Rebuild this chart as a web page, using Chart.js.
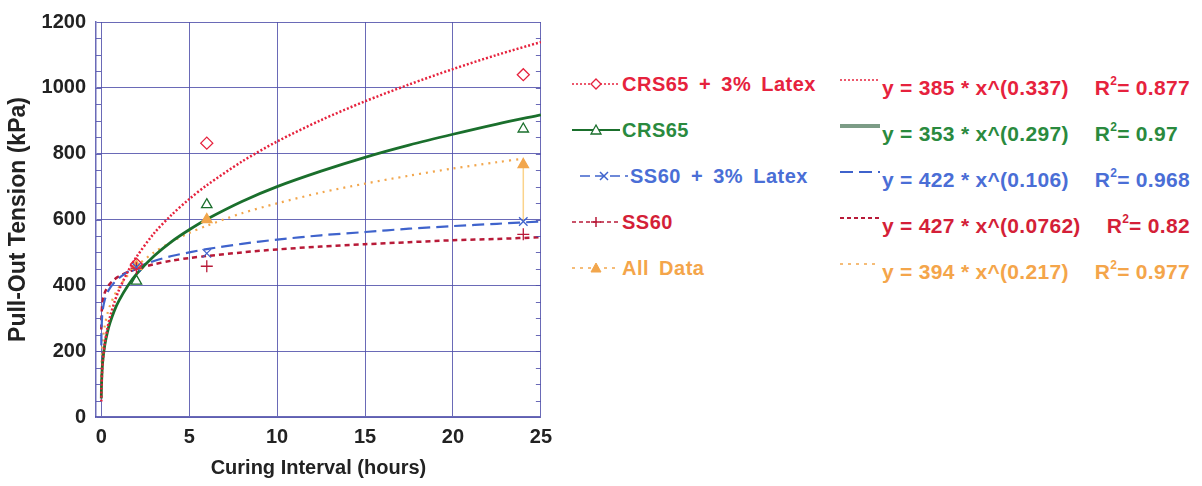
<!DOCTYPE html>
<html><head><meta charset="utf-8">
<script src="https://cdn.jsdelivr.net/npm/chart.js@4.4.1/dist/chart.umd.min.js"></script>
<style>
html,body{margin:0;padding:0;background:#fff;width:1202px;height:486px;overflow:hidden;font-family:"Liberation Sans",Arial,sans-serif;}
#wrap{position:absolute;left:0;top:0;width:560px;height:486px;}
.row{position:absolute;display:flex;align-items:center;height:24px;font-weight:bold;white-space:nowrap;line-height:1;}
.row svg{display:block;flex:none;}
.lab{font-size:20px;word-spacing:4px;letter-spacing:0.5px;}
.eq{font-size:21px;letter-spacing:0.3px;}
.r2{font-size:21px;margin-left:26px;letter-spacing:0.3px;}
.r2 sup{font-size:12px;vertical-align:10px;line-height:0;}
</style></head><body>
<div id="wrap"><canvas id="c" width="560" height="486"></canvas></div>
<div id="legend"></div>
<script>
// ---- data ----
const hours = [2, 6, 24];
const crsLatex = [464, 832, 1040];
const crs = [413, 645, 875];
const ssLatex = [455, 497, 594];
const ss = [452, 458, 555];
const allData = [458, 600, 767];

// fitted curves as drawn in the picture (x in hours, y in kPa)
const fitX = [0.002, 0.01, 0.05, 0.1, 0.2, 0.35, 0.5, 0.75, 1, 1.5, 2, 3, 4, 5, 6, 8, 10, 12.5, 15, 17.5, 20, 22.5, 25];
const fitCrsLatex = [47, 82, 140, 177, 224, 270, 305, 349, 385, 441, 486, 558, 614, 662, 704, 776, 837, 902, 959, 1010, 1057, 1100, 1139];
const fitCrs = [56, 90, 145, 178, 219, 258, 287, 324, 353, 398, 434, 489, 533, 569, 601, 655, 700, 747, 789, 826, 859, 890, 918];
const fitSsLatex = [218, 259, 307, 331, 356, 378, 392, 409, 422, 441, 454, 474, 489, 500, 510, 526, 539, 552, 562, 572, 580, 587, 594];
const fitSs = [266, 301, 340, 358, 378, 394, 405, 418, 427, 440, 450, 464, 475, 483, 489, 500, 509, 518, 525, 531, 537, 541, 546];
const fitAllX = [0.002, 0.01, 0.05, 0.1, 0.2, 0.35, 0.5, 0.75, 1, 1.5, 2, 3, 4, 5, 6, 8, 10, 12.5, 15, 17.5, 20, 22.5, 24];
const fitAll = [102, 145, 206, 239, 278, 314, 339, 370, 394, 430, 458, 500, 532, 559, 581, 619, 649, 682, 709, 733, 755, 774, 785];
const rangeX = [24, 24];
const rangeY = [596, 785];

const xTicks = [0, 5, 10, 15, 20, 25];
const yTicks = [0, 200, 400, 600, 800, 1000, 1200];

const seriesNames = ['CRS65 + 3% Latex', 'CRS65', 'SS60 + 3% Latex', 'SS60', 'All Data'];
const fitEquations = ['y = 385 * x^(0.337)', 'y = 353 * x^(0.297)', 'y = 422 * x^(0.106)', 'y = 427 * x^(0.0762)', 'y = 394 * x^(0.217)'];
const rSquared = ['0.877', '0.97', '0.968', '0.82', '0.977'];

// ---- styles ----
const C_RED = '#e6223d', C_GREEN = '#1a6f2c', C_BLUE = '#3f63cc', C_DRED = '#b81a38', C_ORANGE = '#f2a64c';
const TEXT = ['#e6223d', '#2a8a3e', '#4a6ed6', '#d41f38', '#f4a54a'];
const GRID = 'rgba(80,80,170,0.85)';
const FONT = {family: 'Liberation Sans', size: 20, weight: 'bold'};

const pts = (xs, ys) => xs.map((x, i) => ({x, y: ys[i]}));

const fitDs = (label, xs, ys, color, dash, w) => ({
  label, data: pts(xs, ys), borderColor: color, borderWidth: w, borderDash: dash,
  pointRadius: 0, showLine: true, fill: false, tension: 0.3, order: 2
});
const markDs = (label, ys, color, style, filled) => ({
  label, data: pts(hours, ys), borderColor: color, backgroundColor: filled ? color : 'rgba(0,0,0,0)',
  pointStyle: style, pointRadius: 6, borderWidth: 1.3, showLine: false, order: 0
});

const minorTicks = {
  id: 'minorTicks',
  afterDraw(chart) {
    const {ctx, chartArea: a, scales: {y}} = chart;
    ctx.save();
    ctx.strokeStyle = GRID; ctx.lineWidth = 1;
    for (let v = 50; v < 1200; v += 50) {
      const py = Math.round(y.getPixelForValue(v)) + 0.5;
      ctx.beginPath();
      ctx.moveTo(a.left, py); ctx.lineTo(a.left + 5, py);
      ctx.moveTo(a.right - 5, py); ctx.lineTo(a.right, py);
      ctx.stroke();
    }
    ctx.restore();
  }
};

new Chart(document.getElementById('c'), {
  type: 'scatter',
  data: {
    datasets: [
      fitDs('fit ' + seriesNames[0], fitX, fitCrsLatex, C_RED, [2, 2], 2.5),
      fitDs('fit ' + seriesNames[1], fitX, fitCrs, C_GREEN, [], 2.8),
      fitDs('fit ' + seriesNames[2], fitX, fitSsLatex, C_BLUE, [12, 6], 2.2),
      fitDs('fit ' + seriesNames[3], fitX, fitSs, C_DRED, [5, 4], 2.5),
      fitDs('fit ' + seriesNames[4], fitAllX, fitAll, C_ORANGE, [2, 5], 2.2),
      {label: 'range', data: pts(rangeX, rangeY), borderColor: 'rgba(250,200,110,0.8)', borderWidth: 1.5, pointRadius: 0, showLine: true, order: 3},
      markDs(seriesNames[0], crsLatex, C_RED, 'rectRot', false),
      markDs(seriesNames[1], crs, C_GREEN, 'triangle', false),
      markDs(seriesNames[2], ssLatex, C_BLUE, 'crossRot', false),
      markDs(seriesNames[3], ss, C_DRED, 'cross', false),
      markDs(seriesNames[4], allData, C_ORANGE, 'triangle', true)
    ]
  },
  options: {
    responsive: false, animation: false,
    layout: {padding: {left: 0, right: 17, top: 19, bottom: 0}},
    plugins: {legend: {display: false}, tooltip: {enabled: false}},
    scales: {
      x: {
        type: 'linear', min: -0.3, max: 25,
        afterBuildTicks: s => { s.ticks = xTicks.map(v => ({value: v})); },
        afterFit: s => { s.height = 69; },
        ticks: {color: '#222', font: FONT, padding: 8, callback: v => String(v)},
        grid: {color: GRID, lineWidth: 1, drawTicks: false},
        border: {color: GRID, width: 1.5},
        title: {display: true, text: 'Curing Interval (hours)', color: '#222', font: FONT, padding: {top: 4, bottom: 6}}
      },
      y: {
        min: 0, max: 1200,
        afterBuildTicks: s => { s.ticks = yTicks.map(v => ({value: v})); },
        afterFit: s => { s.width = 96; },
        ticks: {color: '#222', font: FONT, padding: 10, callback: v => String(v)},
        grid: {color: GRID, lineWidth: 1, drawTicks: false},
        border: {color: GRID, width: 1.5},
        title: {display: true, text: 'Pull-Out Tension (kPa)', color: '#222',
          font: {family: 'Liberation Sans', size: 23, weight: 'bold'}, padding: {top: 5, bottom: 0}}
      }
    }
  },
  plugins: [minorTicks]
});

// ---- legend (HTML text) ----
const leftRowsY = [84, 130, 176, 222, 268];
const rightRowsY = [87, 133, 179, 225, 271];
const leftX = [572, 572, 580, 572, 572];
const sampleMarks = ['diamond', 'triangle', 'x', 'plus', 'ftriangle'];
const sampleColors = [C_RED, C_GREEN, C_BLUE, C_DRED, C_ORANGE];
const leftDash = ['2,2', '', '10,5', '4,3', '3,5'];
const rightDash = ['2,2', '', '13,6', '4,3', '3,5'];
const rightStroke = [C_RED, '#7c9c86', C_BLUE, C_DRED, C_ORANGE];
const rightWidth = [1.5, 4, 2, 2, 1.5];

function markerSvg(kind, color, cx, cy) {
  const r = 5;
  if (kind === 'diamond') return `<polygon points="${cx},${cy-r} ${cx+r},${cy} ${cx},${cy+r} ${cx-r},${cy}" fill="white" stroke="${color}" stroke-width="1.3"/>`;
  if (kind === 'triangle') return `<polygon points="${cx},${cy-r} ${cx+r},${cy+r-1} ${cx-r},${cy+r-1}" fill="white" stroke="${color}" stroke-width="1.3"/>`;
  if (kind === 'ftriangle') return `<polygon points="${cx},${cy-r} ${cx+r},${cy+r-1} ${cx-r},${cy+r-1}" fill="${color}" stroke="${color}" stroke-width="1"/>`;
  if (kind === 'x') return `<path d="M${cx-4},${cy-4}L${cx+4},${cy+4}M${cx+4},${cy-4}L${cx-4},${cy+4}" stroke="${color}" stroke-width="1.5"/>`;
  return `<path d="M${cx-5},${cy}L${cx+5},${cy}M${cx},${cy-5}L${cx},${cy+5}" stroke="${color}" stroke-width="1.5"/>`;
}

const lg = document.getElementById('legend');
let html = '';
seriesNames.forEach((name, i) => {
  const col = sampleColors[i];
  html += `<div class="row" style="left:${leftX[i]}px;top:${leftRowsY[i]-12}px;color:${TEXT[i]}">` +
    `<svg width="48" height="24"><line x1="0" y1="12" x2="48" y2="12" stroke="${col}" stroke-width="${i===1?2:1.5}" ${leftDash[i] ? `stroke-dasharray="${leftDash[i]}"` : ''}/>${markerSvg(sampleMarks[i], col, 24, 12)}</svg>` +
    `<span class="lab" style="margin-left:2px">${name}</span></div>`;
  html += `<div class="row" style="left:838px;top:${rightRowsY[i]-12}px;color:${TEXT[i]}">` +
    `<svg width="44" height="24"><line x1="2" y1="5" x2="42" y2="5" stroke="${rightStroke[i]}" stroke-width="${rightWidth[i]}" ${rightDash[i] ? `stroke-dasharray="${rightDash[i]}"` : ''}/></svg>` +
    `<span class="eq">${fitEquations[i]}</span><span class="r2">R<sup>2</sup>= ${rSquared[i]}</span></div>`;
});
lg.innerHTML = html;
</script>
</body></html>
